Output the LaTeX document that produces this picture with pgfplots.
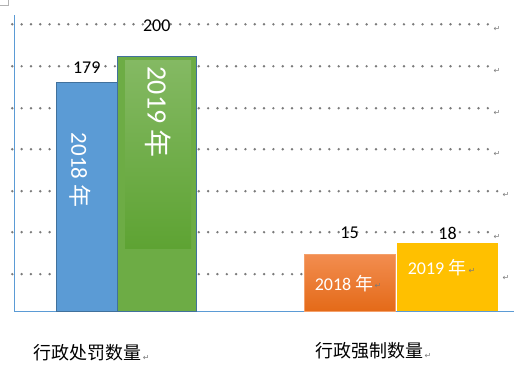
\documentclass[border=0pt]{standalone}
\usepackage{fontspec}
\setmainfont{Carlito}
\newfontfamily\cjk{Noto Sans CJK SC}
\newfontfamily\dv{DejaVu Sans}
\usepackage{pgfplots}
\pgfplotsset{compat=1.18}
\definecolor{cblue}{HTML}{5B9BD5}
\definecolor{cblueedge}{HTML}{41719C}
\definecolor{cgreen}{HTML}{6DAC45}
\definecolor{cgreenT}{HTML}{84B963}
\definecolor{cgreenB}{HTML}{5EA333}
\definecolor{corangeT}{HTML}{F28D50}
\definecolor{corangeB}{HTML}{E46A18}
\definecolor{corangeE}{HTML}{F4A06A}
\definecolor{cyellow}{HTML}{FFC000}
\definecolor{cgrid}{HTML}{7A7A7A}
\newcommand{\pmark}[2]{\node[text=cgrid, font=\dv\fontsize{8}{8}\selectfont, inner sep=0pt] at (#1,#2) {↵};}
\begin{document}
\begin{tikzpicture}[x=1pt,y=1pt]
\path (0,0) rectangle (525,378);
\tikzset{griddot/.style={cgrid, line width=2.7pt, line cap=round, dash pattern=on 0pt off 9.33pt}}
% corner mark
\draw[gray!60, line width=0.6pt] (0,373) -- (8,373) -- (8,378);
% dotted rows
\foreach \ty in {354,312,270,229,146,104} \draw[griddot] (12,\ty) -- (490,\ty);
\draw[griddot] (12,187) -- (499,187);
\pmark{497}{349}\pmark{497}{307}\pmark{497}{265}\pmark{497}{224}
\pmark{506}{183}\pmark{497}{141}\pmark{506}{100}
% axis lines
\draw[cblue, line width=1pt] (14.3,363) -- (14.3,67) -- (514,67);
% first group
\begin{axis}[at={(14pt,67pt)}, anchor=south west, scale only axis, hide axis,
  width=500pt, height=296pt, xmin=14, xmax=514, ymin=0, ymax=231.88, clip=false,
  /pgf/number format/assume math mode=true,
  nodes near coords, every node near coord/.append style={anchor=center, text=black, font=\fontsize{18}{18}\selectfont}]
\addplot[ybar, bar width=61, bar shift=0pt, fill=cblue, draw=cblueedge, line width=0.8pt,
  every node near coord/.append style={yshift=15.5pt}] coordinates {(86.5,179)};
\addplot[ybar, bar width=79, bar shift=0pt, fill=cgreen, draw=cblueedge, line width=0.8pt,
  every node near coord/.append style={yshift=30.7pt}] coordinates {(156.5,200)};
\end{axis}
% second group
\begin{axis}[at={(14pt,67pt)}, anchor=south west, scale only axis, hide axis,
  width=500pt, height=296pt, xmin=14, xmax=514, ymin=0, ymax=77.94, clip=false,
  /pgf/number format/assume math mode=true,
  nodes near coords, every node near coord/.append style={anchor=center, text=black, font=\fontsize{18}{18}\selectfont}]
\addplot[ybar, bar width=91, bar shift=0pt, top color=corangeT, bottom color=corangeB, draw=corangeE, line width=0.6pt,
  every node near coord/.append style={yshift=21pt}] coordinates {(349.5,15)};
\addplot[ybar, bar width=101, bar shift=0pt, fill=cyellow, draw=none,
  every node near coord/.append style={yshift=9.6pt}] coordinates {(447.5,18)};
\end{axis}
% inner text boxes
\shade[top color=cgreenT, bottom color=cgreenB] (125,130) rectangle (191,318);
\node[rotate=-90, text=white, font=\fontsize{23}{23}\selectfont] at (80,208) {2018 {\cjk 年}};
\node[rotate=-90, text=white, font=\fontsize{28}{28}\selectfont] at (158,266) {2019 {\cjk 年}};
\node[text=white, font=\fontsize{18}{18}\selectfont] at (344,95) {2018 {\cjk 年}};
\node[text=white, font=\fontsize{18}{18}\selectfont] at (437,111) {2019 {\cjk 年}};
\pmark{378}{92}\pmark{472}{107}
% category labels
\node[font=\cjk\fontsize{18}{18}\selectfont] at (87,25) {行政处罚数量};
\node[font=\cjk\fontsize{18}{18}\selectfont] at (369,27) {行政强制数量};
\pmark{146}{20}\pmark{428}{22}
\end{tikzpicture}
\end{document}
